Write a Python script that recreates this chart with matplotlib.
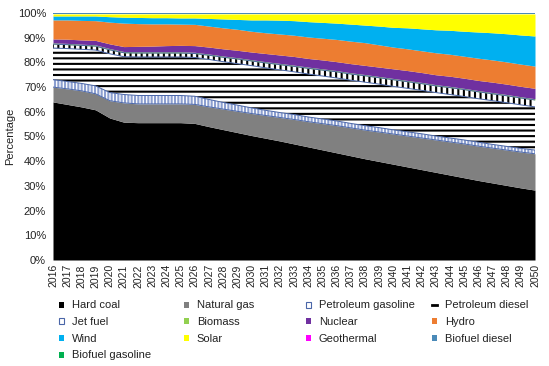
import numpy as np
import matplotlib.pyplot as plt
from matplotlib.patches import Patch
from matplotlib.lines import Line2D

plt.rcParams['font.family'] = ['Liberation Sans', 'DejaVu Sans']
plt.rcParams['hatch.linewidth'] = 1.5

years = list(range(2016, 2051))

hard_coal = [64.0, 63.0, 62.0, 60.8, 57.5, 55.8, 55.6, 55.6, 55.6, 55.6, 55.3, 54.0,
             52.8, 51.6, 50.4, 49.3, 48.2, 47.0, 45.8, 44.6, 43.4, 42.2, 41.0, 39.9,
             38.8, 37.7, 36.6, 35.5, 34.4, 33.3, 32.2, 31.2, 30.2, 29.2, 28.3]
natural_gas = [6.0, 6.3, 6.5, 6.5, 7.0, 7.8, 7.6, 7.6, 7.6, 7.6, 7.7, 8.0, 8.3, 8.6,
               8.9, 9.2, 9.5, 9.9, 10.2, 10.6, 11.0, 11.3, 11.6, 11.9, 12.2, 12.5,
               12.8, 13.1, 13.4, 13.7, 13.9, 14.1, 14.3, 14.5, 14.7]
petroleum_gasoline = [3.0, 3.0, 3.0, 3.2, 3.3, 3.4, 3.4, 3.4, 3.4, 3.4, 3.3, 3.0, 2.7,
                      2.5, 2.3, 2.1, 2.0, 2.0, 1.9, 1.9, 1.9, 1.8, 1.8, 1.8, 1.7, 1.7,
                      1.7, 1.6, 1.6, 1.6, 1.6, 1.5, 1.5, 1.5, 1.5]
petroleum_diesel = [12.8, 13.3, 13.8, 14.5, 15.7, 15.3, 15.6, 15.6, 15.6, 15.6, 15.7,
                    16.2, 16.5, 16.8, 17.1, 17.2, 17.3, 17.3, 17.4, 17.4, 17.4, 17.5,
                    17.6, 17.6, 17.6, 17.6, 17.6, 17.6, 17.6, 17.6, 17.6, 17.7, 17.7,
                    17.6, 17.5]
jet_fuel = [1.6, 1.6, 1.6, 1.6, 1.6, 1.6, 1.6, 1.6, 1.6, 1.6, 1.6, 1.7, 1.8, 1.9, 1.9,
            2.0, 2.1, 2.2, 2.3, 2.4, 2.5, 2.5, 2.6, 2.6, 2.7, 2.7, 2.7, 2.7, 2.8, 2.8,
            2.8, 2.8, 2.8, 2.8, 2.8]
biomass = [0.5] * 35
nuclear = [1.6, 1.7, 1.7, 1.8, 1.9, 2.0, 2.2, 2.3, 2.5, 2.6, 2.7, 2.8, 2.9, 3.0, 3.1,
           3.3, 3.4, 3.5, 3.5, 3.6, 3.6, 3.7, 3.7, 3.8, 3.9, 4.0, 4.0, 4.0, 4.1, 4.1,
           4.1, 4.2, 4.2, 4.2, 4.2]
hydro = [7.7, 7.8, 7.9, 8.0, 8.8, 9.5, 9.2, 9.0, 8.8, 8.6, 8.6, 8.5, 8.5, 8.5, 8.4,
         8.4, 8.5, 8.6, 8.7, 8.8, 9.0, 9.1, 9.2, 9.0, 8.8, 8.8, 8.8, 8.9, 8.9, 8.9,
         9.0, 9.0, 9.0, 9.0, 9.0]
wind = [1.6, 1.6, 1.8, 1.9, 2.2, 2.4, 2.5, 2.5, 2.5, 2.5, 2.6, 3.1, 3.6, 4.0, 4.6,
        5.2, 5.6, 5.9, 6.2, 6.4, 6.6, 6.9, 7.1, 7.6, 8.0, 8.5, 8.9, 9.3, 9.7, 10.1,
        10.6, 11.0, 11.4, 11.8, 12.2]
solar = [0.8, 0.8, 0.8, 0.8, 1.1, 1.3, 1.4, 1.5, 1.5, 1.6, 1.6, 1.8, 2.0, 2.2, 2.4,
         2.4, 2.5, 2.7, 3.1, 3.4, 3.7, 4.1, 4.5, 4.9, 5.4, 5.6, 6.0, 6.4, 6.6, 7.0,
         7.3, 7.6, 8.0, 8.5, 8.9]
geothermal = [0.05] * 35
biofuel_diesel = [0.15] * 35
biofuel_gasoline = [0.2] * 35

layers = [
    ('Hard coal', hard_coal, dict(facecolor='black')),
    ('Natural gas', natural_gas, dict(facecolor='#808080')),
    ('Petroleum gasoline', petroleum_gasoline, dict(facecolor='white', edgecolor='#8c9fd0', hatch='|||||')),
    ('Petroleum diesel', petroleum_diesel, dict(facecolor='white', edgecolor='black', hatch='---')),
    ('Jet fuel', jet_fuel, dict(facecolor='white', edgecolor='black', hatch='|||')),
    ('Biomass', biomass, dict(facecolor='#92D050')),
    ('Nuclear', nuclear, dict(facecolor='#7030A0')),
    ('Hydro', hydro, dict(facecolor='#ED7D31')),
    ('Wind', wind, dict(facecolor='#00B0F0')),
    ('Solar', solar, dict(facecolor='#FFFF00')),
    ('Geothermal', geothermal, dict(facecolor='#FF00FF')),
    ('Biofuel diesel', biofuel_diesel, dict(facecolor='#4A8AB8')),
    ('Biofuel gasoline', biofuel_gasoline, dict(facecolor='#2a8c6a')),
]

fig = plt.figure(figsize=(5.49, 3.66), dpi=100)
ax = fig.add_axes([53/549, 106/366, 482/549, 247/366])

base = np.zeros(len(years))
for name, vals, style in layers:
    top = base + np.array(vals)
    style = dict(style)
    style.setdefault('edgecolor', style['facecolor'])
    ax.fill_between(years, base, top, linewidth=0, **style)
    if name in ('Petroleum gasoline', 'Jet fuel'):
        ax.plot(years, top, color='#4a66a8', lw=0.7)
        ax.plot(years, base, color='#4a66a8', lw=0.7)
    base = top

ax.set_xlim(2016, 2050)
ax.set_ylim(0, 100)
ax.set_xticks(years)
ax.set_xticklabels([str(y) for y in years], rotation=90, fontsize=7.5, color='#222222')
ax.set_yticks(range(0, 101, 10))
ax.set_yticklabels([f'{v}%' for v in range(0, 101, 10)], fontsize=8, color='#222222')
ax.tick_params(length=0, pad=3)
ax.tick_params(axis='y', pad=5)
for s in ax.spines.values():
    s.set_visible(False)
ax.set_ylabel('Percentage', fontsize=8, color='#222222', labelpad=2)

handles = {
    'Hard coal': Patch(facecolor='black'),
    'Natural gas': Patch(facecolor='#808080'),
    'Petroleum gasoline': Patch(facecolor='white', edgecolor='#4a66a8', linewidth=0.8),
    'Petroleum diesel': Line2D([], [], color='black', lw=2),
    'Jet fuel': Patch(facecolor='white', edgecolor='#4a66a8', linewidth=0.8),
    'Biomass': Patch(facecolor='#92D050'),
    'Nuclear': Patch(facecolor='#7030A0'),
    'Hydro': Patch(facecolor='#ED7D31'),
    'Wind': Patch(facecolor='#00B0F0'),
    'Solar': Patch(facecolor='#FFFF00'),
    'Geothermal': Patch(facecolor='#FF00FF'),
    'Biofuel diesel': Patch(facecolor='#4A8AB8'),
    'Biofuel gasoline': Patch(facecolor='#00B050'),
}
columns = [
    ['Hard coal', 'Jet fuel', 'Wind', 'Biofuel gasoline'],
    ['Natural gas', 'Biomass', 'Solar'],
    ['Petroleum gasoline', 'Nuclear', 'Geothermal'],
    ['Petroleum diesel', 'Hydro', 'Biofuel diesel'],
]
col_x = [59, 184, 306, 432]
for names, x in zip(columns, col_x):
    fig.legend([handles[n] for n in names], names, loc='upper left',
               bbox_to_anchor=(x/549, 1 - 300.5/366), frameon=False,
               borderpad=0, borderaxespad=0, handlelength=0.45, handleheight=0.45,
               handletextpad=0.7, labelspacing=0.6, fontsize=8,
               labelcolor='#222222')

fig.savefig('out.png', dpi=100)
